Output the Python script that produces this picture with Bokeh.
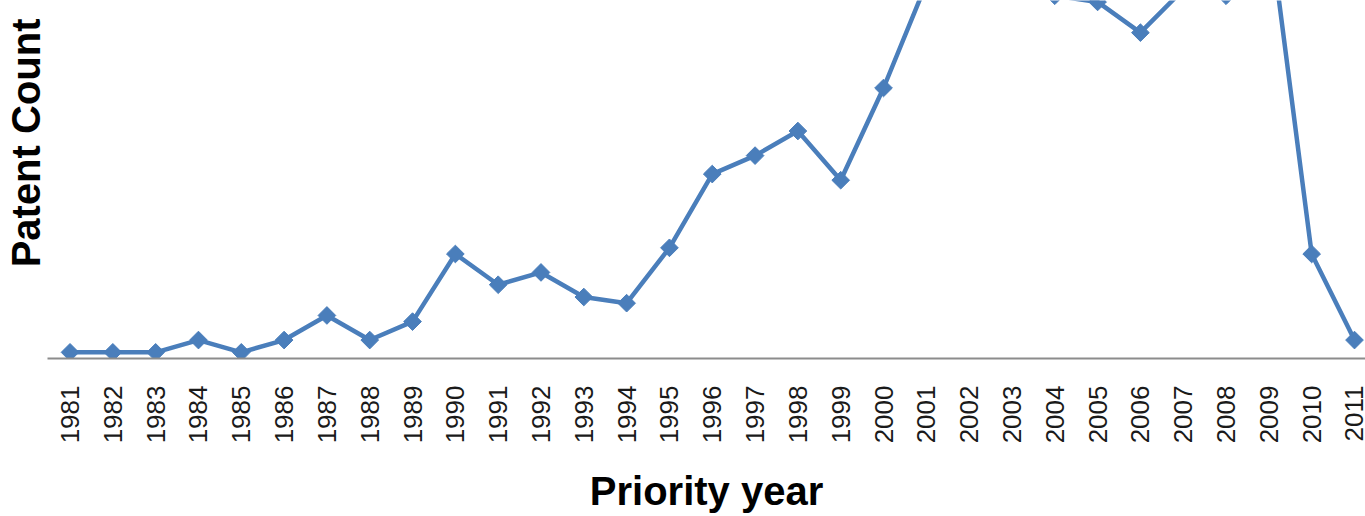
import math
from bokeh.plotting import figure
from bokeh.models import Range1d, FixedTicker, Title
from bokeh.embed import file_html
from bokeh.resources import INLINE

# Data (values above the visible area are estimates)
years = list(range(1981, 2012))
counts = [1, 1, 1, 3, 1, 3, 7, 3, 6, 17,
          12, 14, 10, 9, 18, 30, 33, 37, 29, 44,
          61, 66, 63, 59, 58, 53, 60, 59, 71, 17,
          3]
x_title = "Priority year"
y_title = "Patent Count"

FONT = "Liberation Sans"
BLUE = "#4A7EBB"

p = figure(width=1365, height=516, output_backend="svg", toolbar_location=None,
           x_range=Range1d(1980.474, 2011.257), y_range=Range1d(0, 58.23),
           min_border_left=47, min_border_right=0, min_border_top=0,
           min_border_bottom=155)
p.background_fill_color = "white"
p.border_fill_color = "white"
p.outline_line_color = None
p.xgrid.visible = False
p.ygrid.visible = False
p.yaxis.visible = False

xa = p.xaxis[0]
xa.ticker = FixedTicker(ticks=years)
xa.major_label_orientation = math.pi / 2
xa.major_label_text_font = FONT
xa.major_label_text_font_size = "26px"
xa.major_label_text_color = "#1a1a1a"
xa.major_label_standoff = 27
xa.major_tick_line_color = None
xa.minor_tick_line_color = None
xa.major_tick_out = 0
xa.major_tick_in = 0
xa.axis_line_color = "#8c8c8c"
xa.axis_line_width = 2
xa.axis_label = x_title
xa.axis_label_text_font = FONT
xa.axis_label_text_font_style = "bold"
xa.axis_label_text_font_size = "40px"
xa.axis_label_text_color = "black"
xa.axis_label_standoff = 23

p.line(years, counts, line_color=BLUE, line_width=4.5)
p.scatter(years, counts, marker="square", angle=math.pi / 4, size=12.5,
          fill_color=BLUE, line_color=BLUE)

p.add_layout(Title(text=y_title, align="right", offset=18, standoff=0,
                   text_font=FONT, text_font_style="bold",
                   text_font_size="40px", text_color="black"), "left")

open("out.html", "w").write(file_html(p, INLINE))
